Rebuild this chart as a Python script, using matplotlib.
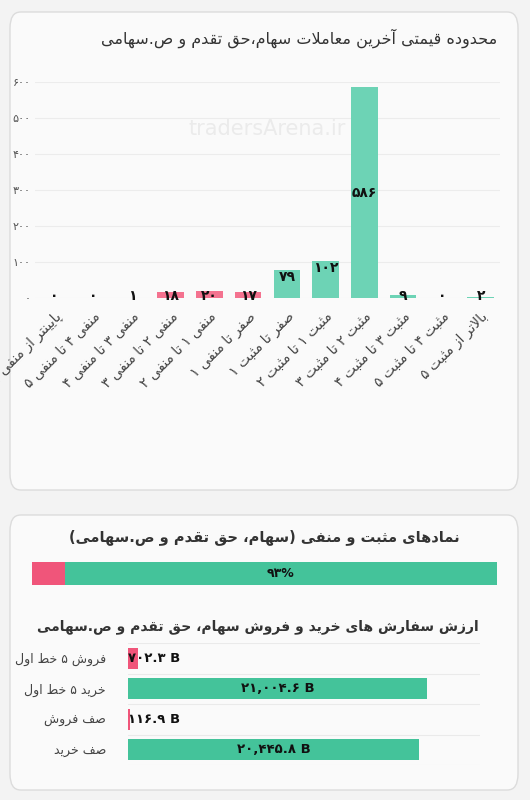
import unicodedata, re
import matplotlib
matplotlib.use("Agg")
import matplotlib.pyplot as plt
from matplotlib.patches import FancyBboxPatch
from matplotlib.ticker import FuncFormatter

plt.rcParams['font.family'] = ['DejaVu Sans', 'Noto Sans']

RIGHT_ONLY = set('اآأإدذرزژوؤة')
NONJOIN = set('ء')
def is_letter(c):
    return ('\u0620' <= c <= '\u064A' or c in 'پچژگکی') and c not in NONJOIN
def dual(c):
    return is_letter(c) and c not in RIGHT_ONLY
def form(c, f):
    try:
        return unicodedata.lookup(unicodedata.name(c) + ' ' + f + ' FORM')
    except Exception:
        return c
def shape(s):
    s = s.replace('\u200c', '')
    out = []
    i = 0
    n = len(s)
    while i < n:
        c = s[i]
        if not is_letter(c):
            out.append(c); i += 1; continue
        prev = s[i-1] if i > 0 else ''
        cp = bool(prev) and dual(prev)
        if c == 'ل' and i + 1 < n and s[i+1] in 'اآأإ':
            a = s[i+1]
            base = {'ا': 'ALEF', 'آ': 'ALEF WITH MADDA ABOVE', 'أ': 'ALEF WITH HAMZA ABOVE', 'إ': 'ALEF WITH HAMZA BELOW'}[a]
            nm = 'ARABIC LIGATURE LAM WITH ' + base + (' FINAL FORM' if cp else ' ISOLATED FORM')
            out.append(unicodedata.lookup(nm)); i += 2; continue
        nxt = s[i+1] if i + 1 < n else ''
        cn = dual(c) and bool(nxt) and is_letter(nxt)
        if cp and cn: out.append(form(c, 'MEDIAL'))
        elif cp: out.append(form(c, 'FINAL'))
        elif cn: out.append(form(c, 'INITIAL'))
        else: out.append(form(c, 'ISOLATED'))
        i += 1
    return ''.join(out)
MIRROR = {'(': ')', ')': '('}
def fa(s):
    v = shape(s)[::-1]
    v = ''.join(MIRROR.get(ch, ch) for ch in v)
    v = re.sub(r'[0-9۰-۹A-Za-z.,%]+', lambda m: m.group(0)[::-1], v)
    return v
FD = '۰۱۲۳۴۵۶۷۸۹'
def fdig(x):
    return ''.join(FD[int(ch)] if ch.isdigit() else ch for ch in str(x))

# ---------------- data ----------------
title1 = 'محدوده قیمتی آخرین معاملات سهام،حق تقدم و ص.سهامی'
categories = ['پایینتر از منفی ۵', 'منفی ۴ تا منفی ۵', 'منفی ۳ تا منفی ۴', 'منفی ۲ تا منفی ۳',
              'منفی ۱ تا منفی ۲', 'صفر تا منفی ۱', 'صفر تا مثبت ۱', 'مثبت ۱ تا مثبت ۲',
              'مثبت ۲ تا مثبت ۳', 'مثبت ۳ تا مثبت ۴', 'مثبت ۴ تا مثبت ۵', 'بالاتر از مثبت ۵']
counts = [0, 0, 1, 18, 20, 17, 79, 102, 586, 9, 0, 2]
is_negative = [True]*6 + [False]*6

title2 = 'نمادهای مثبت و منفی (سهام، حق تقدم و ص.سهامی)'
neg_pct = 7
pos_pct = 93

title3 = 'ارزش سفارش های خرید و فروش سهام، حق تقدم و ص.سهامی'
order_labels = ['فروش ۵ خط اول', 'خرید ۵ خط اول', 'صف فروش', 'صف خرید']
order_values = [702.3, 21004.6, 116.9, 20445.8]
order_text = ['۷۰۲.۳ B', '۲۱,۰۰۴.۶ B', '۱۱۶.۹ B', '۲۰,۴۴۵.۸ B']
order_is_sell = [True, False, True, False]

PINK = '#f4728f'; GREEN = '#6dd3b5'
PINK2 = '#f0557a'; GREEN2 = '#44c39a'

W, H = 530, 800
fig = plt.figure(figsize=(5.3, 8), dpi=100, facecolor='#f3f3f3')
def fx(x): return x / W
def fy(y): return 1 - y / H

for (x0, y0, x1, y1) in [(10, 12, 518, 490), (10, 515, 518, 790)]:
    fig.patches.append(FancyBboxPatch((fx(x0), fy(y1)), fx(x1 - x0), (y1 - y0) / H,
                       boxstyle='round,pad=0,rounding_size=0.02', transform=fig.transFigure,
                       facecolor='#fafafa', edgecolor='#dcdcdc', lw=1, zorder=-5))

fig.text(fx(497), fy(38), fa(title1), ha='right', va='center', fontsize=11.5, color='#333333')

ax = fig.add_axes([fx(35), fy(298), fx(465), 216 / H], zorder=2)
ax.set_facecolor('none')
x = list(range(len(counts)))
cols = [PINK if n else GREEN for n in is_negative]
ax.bar(x, counts, width=0.68, color=cols, zorder=2)
ax.set_ylim(0, 600)
ax.set_xlim(-0.5, len(counts) - 0.5)
ax.set_yticks(range(0, 700, 100))
ax.yaxis.set_major_formatter(FuncFormatter(lambda v, p: fdig(int(v))))
ax.tick_params(axis='y', length=0, labelsize=8, colors='#555555', pad=3)
ax.tick_params(axis='x', length=0, pad=8)
ax.grid(axis='y', color='#ececec', lw=0.8, zorder=0)
for s in ax.spines.values(): s.set_visible(False)
ax.set_xticks(x)
ax.set_xticklabels([fa(c) for c in categories], rotation=45, ha='right', rotation_mode='anchor',
                   fontsize=10, color='#444444')
for xi, v in zip(x, counts):
    if v > 300: yy = v / 2
    elif v >= 50: yy = v - 20
    else: yy = 6
    ax.text(xi, yy, fdig(v), ha='center', va='center', fontsize=10, fontweight='bold', color='#111111', zorder=3)
ax.text(5.5, 470, 'tradersArena.ir', ha='center', va='center', fontsize=15, color='#ebebeb', zorder=1)

# ---- bottom card ----
fig.text(fx(264), fy(537), fa(title2), ha='center', va='center', fontsize=10.5, fontweight='bold', color='#333333')
ax2 = fig.add_axes([fx(32), fy(585), fx(465), 23 / H], zorder=2)
ax2.barh([0], [neg_pct], color=PINK2, height=1)
ax2.barh([0], [pos_pct], left=[neg_pct], color=GREEN2, height=1)
ax2.text(neg_pct + pos_pct / 2, 0, fdig(pos_pct) + '%', ha='center', va='center', fontsize=9, fontweight='bold', color='#111111')
ax2.set_xlim(0, 100); ax2.set_ylim(-0.5, 0.5); ax2.axis('off')

fig.text(fx(258), fy(627), fa(title3), ha='center', va='center', fontsize=10, fontweight='bold', color='#333333')
ax3 = fig.add_axes([fx(128), fy(765), fx(352), 122 / H], zorder=2)
ax3.set_facecolor('none')
yy = list(range(len(order_values)))
ax3.barh(yy, order_values, height=0.7, color=[PINK2 if s else GREEN2 for s in order_is_sell], zorder=2)
ax3.set_xlim(0, 24700); ax3.set_ylim(len(order_values) - 0.5, -0.5)
for yv in [-0.5, 0.5, 1.5, 2.5, 3.5]:
    ax3.axhline(yv, color='#eaeaea', lw=0.8, zorder=0)
for yi, v, t in zip(yy, order_values, order_text):
    if v > 5000:
        ax3.text(v / 2, yi, t, ha='center', va='center', fontsize=9.5, fontweight='bold', color='#111111', zorder=3)
    else:
        ax3.text(0, yi, t, ha='left', va='center', fontsize=9.5, fontweight='bold', color='#111111', zorder=3)
ax3.set_yticks(yy)
ax3.set_yticklabels([fa(l) for l in order_labels], fontsize=9, color='#444444')
ax3.tick_params(length=0, pad=16)
ax3.set_xticks([])
for s in ax3.spines.values(): s.set_visible(False)

fig.savefig('out.png', dpi=100, facecolor=fig.get_facecolor())
